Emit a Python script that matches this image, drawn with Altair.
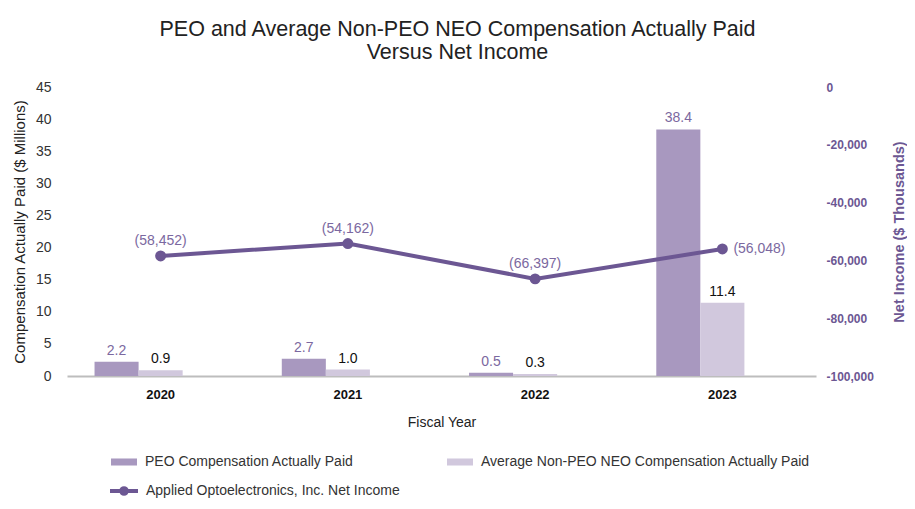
import altair as alt
import pandas as pd

years = ["2020", "2021", "2022", "2023"]
peo = [2.2, 2.7, 0.5, 38.4]
non_peo = [0.9, 1.0, 0.3, 11.4]
net_income = [-58452, -54162, -66397, -56048]
bar_series = ["PEO Compensation Actually Paid",
              "Average Non-PEO NEO Compensation Actually Paid"]
line_series = "Applied Optoelectronics, Inc. Net Income"
y_left_ticks = [0, 5, 10, 15, 20, 25, 30, 35, 40, 45]
y_right_ticks = [-100000, -80000, -60000, -40000, -20000, 0]

C_PEO = "#A898BF"
C_NON = "#D1C8DD"
C_LINE = "#6C5793"
C_LBL = "#7B68A0"
FONT = "Liberation Sans"

bars_df = pd.DataFrame({
    "Year": years * 2,
    "Series": [bar_series[0]] * 4 + [bar_series[1]] * 4,
    "Value": peo + non_peo,
})
line_df = pd.DataFrame({
    "Year": years,
    "Net": net_income,
    "Label": [f"({-v:,})" for v in net_income],
    "Series": [line_series] * 4,
})

x_axis = alt.Axis(title="Fiscal Year", labelAngle=0, labelFontWeight="bold",
                  labelFontSize=13, labelColor="#111", labelPadding=12,
                  titleFontSize=14, titleFontWeight="normal", titleColor="#222",
                  titlePadding=14, ticks=False, domainColor="#BDBDBD", domainWidth=2)
x_enc = alt.X("Year:N", scale=alt.Scale(paddingInner=0, paddingOuter=0), axis=x_axis)
xoff = alt.XOffset("Series:N", scale=alt.Scale(domain=bar_series + [line_series],
                                               paddingInner=0, paddingOuter=0.625))
y_left = alt.Y("Value:Q", scale=alt.Scale(domain=[0, 45]),
               axis=alt.Axis(orient="left", values=y_left_ticks,
                             title="Compensation Actually Paid ($ Millions)",
                             grid=False, domain=False, ticks=False,
                             labelFontSize=14, labelColor="#333", labelPadding=16,
                             titleFontSize=15, titleFontWeight="normal",
                             titleColor="#222", titlePadding=8))

legend_common = dict(labelLimit=500, labelFontSize=14, labelColor="#333", labelFont=FONT)

bars = alt.Chart(bars_df).mark_bar().encode(
    x=x_enc, xOffset=xoff, y=y_left,
    fill=alt.Fill("Series:N", scale=alt.Scale(domain=bar_series, range=[C_PEO, C_NON]),
                  legend=alt.Legend(title=None, orient="none", legendX=43, legendY=361,
                                    direction="horizontal", columns=2, columnPadding=92,
                                    symbolType="M-1,-0.27H1V0.27H-1Z", symbolSize=676,
                                    labelOffset=7, **legend_common)),
)
bar_text = alt.Chart(bars_df).mark_text(dy=-4, fontSize=14, baseline="bottom").encode(
    x=x_enc, xOffset=xoff, y=y_left,
    text=alt.Text("Value:Q", format=".1f"),
    color=alt.condition(alt.datum.Series == bar_series[0], alt.value(C_LBL), alt.value("#111")),
)

y_right = alt.Y("Net:Q", scale=alt.Scale(domain=[-100000, 0]),
                axis=alt.Axis(orient="right", values=y_right_ticks,
                              labelExpr="(datum.value < 0 ? '-' : '') + format(abs(datum.value), ',.0f')",
                              title="Net Income ($ Thousands)", grid=False,
                              domain=False, ticks=False, labelFontSize=12,
                              labelFontWeight="bold", labelColor=C_LINE, labelPadding=10,
                              titleFontSize=14.5, titleFontWeight="bold", titleColor=C_LINE,
                              titleAngle=270, titlePadding=33))

line = alt.Chart(line_df).mark_line(strokeWidth=4, point=alt.OverlayMarkDef(
    filled=True, fill=C_LINE, size=80)).encode(
    x=x_enc, y=y_right,
    stroke=alt.Stroke("Series:N", scale=alt.Scale(domain=[line_series], range=[C_LINE]),
                      legend=alt.Legend(title=None, orient="none", legendX=41, legendY=388,
                                        symbolType="M-1,0H1M-0.2,0A0.2,0.2,0,1,1,0.2,0A0.2,0.2,0,1,1,-0.2,0Z",
                                        symbolSize=784, symbolStrokeWidth=4,
                                        symbolFillColor=C_LINE, labelOffset=6,
                                        **legend_common)),
)
line_text_top = alt.Chart(line_df).transform_filter(alt.datum.Year != "2023").mark_text(
    dy=-15, fontSize=14, color=C_LBL).encode(x=x_enc, y=y_right, text="Label:N")
line_text_right = alt.Chart(line_df).transform_filter(alt.datum.Year == "2023").mark_text(
    dx=11, align="left", fontSize=14, color=C_LBL).encode(x=x_enc, y=y_right, text="Label:N")

chart = alt.layer(
    alt.layer(bars, bar_text),
    alt.layer(line, line_text_top, line_text_right),
).resolve_scale(y="independent").properties(
    width=749, height=289,
    autosize=alt.AutoSizeParams(type="none"),
    padding={"left": 59, "top": 79, "right": 91, "bottom": 125},
    title=alt.TitleParams(
        text=["PEO and Average Non-PEO NEO Compensation Actually Paid", "Versus Net Income"],
        fontSize=21.5, font=FONT, fontWeight="normal", color="#222", anchor="middle",
        dx=16, offset=17, lineHeight=23),
).configure(font=FONT).configure_view(stroke=None)

chart.save("out.html", embed_options={"renderer": "svg", "actions": False})
